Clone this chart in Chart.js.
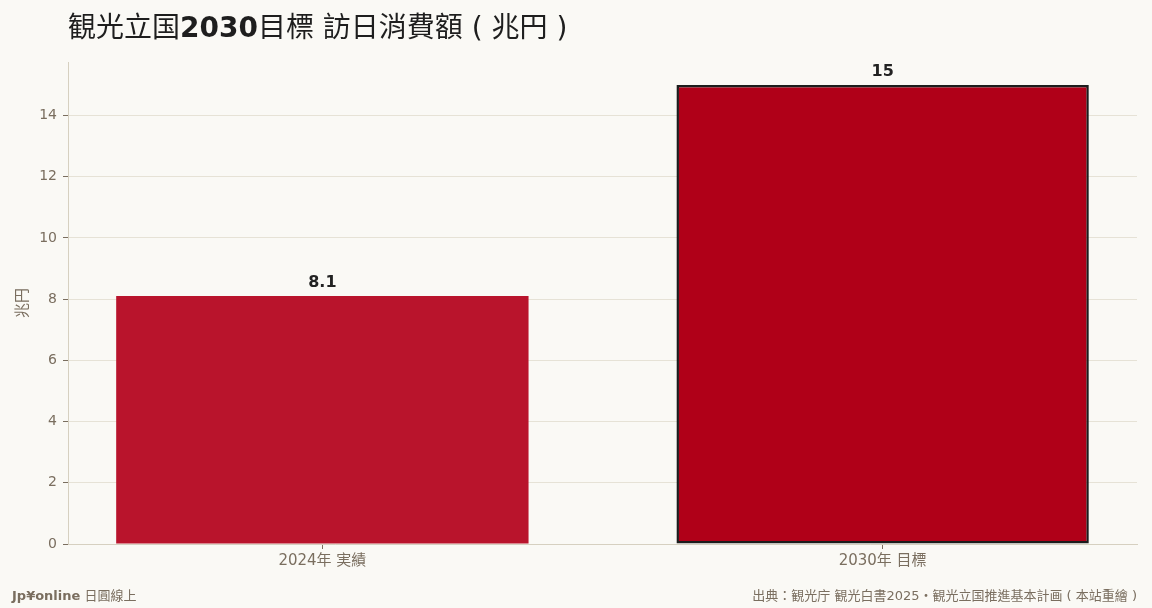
<!DOCTYPE html>
<html>
<head>
<meta charset="utf-8">
<script src="https://cdn.jsdelivr.net/npm/chart.js@4/dist/chart.umd.min.js"></script>
<style>
  html, body { margin: 0; padding: 0; background: #faf9f5; }
  #wrap { width: 1152px; height: 608px; }
</style>
</head>
<body>
<div id="wrap"><canvas id="chart"></canvas></div>
<script>
const categories = ['2024年 実績', '2030年 目標'];
const values = [8.1, 15];
const yTicks = [0, 2, 4, 6, 8, 10, 12, 14];

const barColors = ['#b9142c', '#b00018'];
const barBorders = ['rgba(0,0,0,0)', '#1c1c1c'];
const muted = '#7a6e5f';
const stack = "'DejaVu Sans', 'Noto Sans CJK TC'";
const cjk = "'Noto Sans CJK TC'";
const latin = "'DejaVu Sans'";

// title, footers and value labels
const decorations = {
  id: 'decorations',
  afterDatasetsDraw(chart) {
    const ctx = chart.ctx;
    const meta = chart.getDatasetMeta(0);
    ctx.save();
    ctx.fillStyle = '#222';
    ctx.font = `bold 16px ${latin}`;
    ctx.textAlign = 'center';
    ctx.textBaseline = 'bottom';
    meta.data.forEach((bar, i) => {
      ctx.fillText(String(values[i]), bar.x, bar.y - 5);
    });
    ctx.restore();
  },
  afterDraw(chart) {
    const ctx = chart.ctx;
    const drawParts = (parts, x, y, align) => {
      let total = 0;
      parts.forEach(p => { ctx.font = p.font; total += ctx.measureText(p.text).width; });
      let cx = align === 'right' ? x - total : x;
      parts.forEach(p => {
        ctx.font = p.font;
        ctx.fillText(p.text, cx, y);
        cx += ctx.measureText(p.text).width;
      });
    };
    ctx.save();
    ctx.textAlign = 'left';
    ctx.textBaseline = 'alphabetic';
    ctx.fillStyle = '#1e1e1e';
    drawParts([
      { text: '観光立国', font: `28px ${stack}` },
      { text: '2030', font: `bold 28px ${latin}` },
      { text: '目標 訪日消費額 ( 兆円 )', font: `28px ${stack}` }
    ], 68, 37, 'left');

    ctx.fillStyle = muted;
    drawParts([
      { text: 'Jp¥online', font: `bold 13px ${latin}` },
      { text: ' 日圓線上', font: `13px ${stack}` }
    ], 12, 600, 'left');
    drawParts([
      { text: '出典：観光庁 観光白書2025・観光立国推進基本計画 ( 本站重繪 )', font: `13px ${stack}` }
    ], 1137, 600, 'right');
    ctx.restore();
  }
};

new Chart(document.getElementById('chart'), {
  type: 'bar',
  data: {
    datasets: [{
      data: values.map((v, i) => ({ x: i, y: v })),
      backgroundColor: barColors,
      borderColor: barBorders,
      borderWidth: [0, 2.5],
      borderSkipped: false,
      categoryPercentage: 1,
      barPercentage: 0.736
    }]
  },
  options: {
    responsive: true,
    maintainAspectRatio: false,
    animation: false,
    layout: { padding: { top: 62, right: 15, bottom: 0, left: 0 } },
    plugins: {
      legend: { display: false },
      tooltip: { enabled: false }
    },
    scales: {
      x: {
        type: 'linear',
        min: -0.454,
        max: 1.454,
        offset: false,
        afterBuildTicks: (scale) => { scale.ticks = categories.map((c, i) => ({ value: i })); },
        afterFit: (scale) => { scale.height = 64; },
        grid: { offset: false, drawOnChartArea: false, tickColor: muted, tickLength: 5 },
        border: { color: '#d6d0c0', width: 1 },
        ticks: {
          color: muted,
          font: { family: stack, size: 15 },
          padding: 3,
          callback: (v) => categories[v]
        }
      },
      y: {
        min: 0,
        max: 15.75,
        z: 1,
        afterBuildTicks: (scale) => { scale.ticks = yTicks.map(v => ({ value: v })); },
        afterFit: (scale) => { scale.width = 68; },
        grid: { color: '#e6e2d6', tickColor: muted, tickLength: 5, lineWidth: 1 },
        border: { color: '#d6d0c0', width: 1 },
        ticks: {
          color: muted,
          font: { family: latin, size: 14 },
          padding: 6
        },
        title: {
          display: true,
          text: '兆円',
          color: muted,
          font: { family: cjk, size: 15 },
          padding: { top: 12, bottom: 0 }
        }
      }
    }
  },
  plugins: [decorations]
});
</script>
</body>
</html>
